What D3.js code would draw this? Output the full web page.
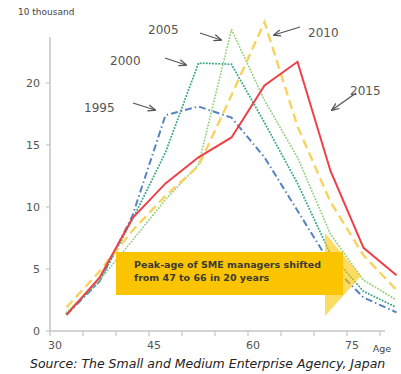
<!DOCTYPE html>
<html>
<head>
<meta charset="utf-8">
<script src="https://cdn.jsdelivr.net/npm/d3@7"></script>
<style>
  body { margin: 0; background: #fff; }
  svg { display: block; font-family: "DejaVu Sans", Verdana, sans-serif; }
</style>
</head>
<body>
<div class="chart"></div>
<script>
const width = 401;
const height = 374;

// age class midpoints
const ages = [32.5, 37.5, 42.5, 47.5, 52.5, 57.5, 62.5, 67.5, 72.5, 77.5, 82.5];

// number of SME managers (10 thousand)
const v1995 = [1.3, 4.0, 9.3, 17.4, 18.1, 17.2, 14.0, 9.7, 5.4, 2.7, 1.5];
const v2000 = [1.4, 4.0, 9.0, 14.4, 21.6, 21.5, 16.8, 11.9, 6.2, 3.2, 1.9];
const v2005 = [1.5, 4.1, 7.3, 10.6, 13.4, 24.3, 18.6, 14.0, 7.8, 4.1, 2.5];
const v2010 = [1.9, 4.8, 8.1, 10.9, 13.3, 19.0, 24.9, 16.5, 10.4, 6.1, 3.3];
const v2015 = [1.3, 4.3, 9.1, 11.9, 14.0, 15.6, 19.8, 21.7, 12.9, 6.7, 4.5];

const yTicks = [0, 5, 10, 15, 20];
const xTicks = [30, 35, 40, 45, 50, 55, 60, 65, 70, 75, 80];
const xLabels = [30, 45, 60, 75];

const series = [
    {name: "1995", values: v1995, color: "#5583c2", width: 2, dash: "7,3,1.5,3", cap: "butt"},
    {name: "2000", values: v2000, color: "#3fa98c", width: 2, dash: "0.1,3", cap: "round"},
    {name: "2005", values: v2005, color: "#96cf7c", width: 1.9, dash: "0.1,3", cap: "round"},
    {name: "2010", values: v2010, color: "#f7d35e", width: 2.4, dash: "9,5", cap: "butt"},
    {name: "2015", values: v2015, color: "#ee4048", width: 2, dash: null, cap: "butt"}
];

// year label + arrow from label to line
const callouts = [
    {name: "1995", tx: 84, ty: 112, x1: 133, y1: 103, x2: 155, y2: 110},
    {name: "2000", tx: 110, ty: 65, x1: 165, y1: 58, x2: 186, y2: 65},
    {name: "2005", tx: 148, ty: 34, x1: 200, y1: 33, x2: 221, y2: 40},
    {name: "2010", tx: 308, ty: 37, x1: 300, y1: 27, x2: 274, y2: 35},
    {name: "2015", tx: 350, ty: 95, x1: 356, y1: 93, x2: 332, y2: 110}
];

const svg = d3.select(".chart").append("svg")
    .attr("width", width)
    .attr("height", height);

const x = d3.scaleLinear().domain([30, 80]).range([50, 380]);
const y = d3.scaleLinear().domain([0, 23.7]).range([331, 37]);

const axisColor = "#c4c4c4";

// y axis
svg.append("line")
    .attr("x1", x(30)).attr("x2", x(30))
    .attr("y1", y(0)).attr("y2", y(23.7))
    .attr("stroke", axisColor).attr("stroke-width", 1.5);

yTicks.forEach(t => {
    svg.append("line")
        .attr("x1", x(30) - 4).attr("x2", x(30))
        .attr("y1", y(t)).attr("y2", y(t))
        .attr("stroke", axisColor).attr("stroke-width", 1.2);
    svg.append("text")
        .attr("x", x(30) - 10)
        .attr("y", y(t) + 4)
        .attr("text-anchor", "end")
        .attr("font-size", "11px")
        .attr("fill", "#555")
        .text(t);
});

// x axis
svg.append("line")
    .attr("x1", x(30)).attr("x2", x(80) + 5)
    .attr("y1", y(0)).attr("y2", y(0))
    .attr("stroke", axisColor).attr("stroke-width", 1.5);

xTicks.forEach(t => {
    svg.append("line")
        .attr("x1", x(t)).attr("x2", x(t))
        .attr("y1", y(0)).attr("y2", y(0) + 5)
        .attr("stroke", axisColor).attr("stroke-width", 1.2);
});

xLabels.forEach(t => {
    svg.append("text")
        .attr("x", x(t) + 5)
        .attr("y", 349)
        .attr("text-anchor", "middle")
        .attr("font-size", "11px")
        .attr("fill", "#555")
        .text(t);
});

svg.append("text")
    .attr("x", 382).attr("y", 352)
    .attr("text-anchor", "middle")
    .attr("font-size", "9.5px")
    .attr("fill", "#444")
    .text("Age");

svg.append("text")
    .attr("x", 18).attr("y", 15)
    .attr("font-size", "9px")
    .attr("fill", "#444")
    .text("10 thousand");

// lines
const line = d3.line()
    .x((d, i) => x(ages[i]))
    .y(d => y(d));

series.forEach(s => {
    svg.append("path")
        .datum(s.values)
        .attr("d", line)
        .attr("fill", "none")
        .attr("stroke", s.color)
        .attr("stroke-width", s.width)
        .attr("stroke-dasharray", s.dash)
        .attr("stroke-linecap", s.cap);
});

// annotation box and arrow head
svg.append("rect")
    .attr("x", 116).attr("y", 252)
    .attr("width", 227).attr("height", 43)
    .attr("fill", "#fbc400");

svg.append("path")
    .attr("d", "M325,233 L361,276 L325,316 Z")
    .attr("fill", "#fbc400")
    .attr("fill-opacity", 0.6);

svg.append("text")
    .attr("x", 134).attr("y", 268)
    .attr("font-size", "9.5px")
    .attr("font-weight", "bold")
    .attr("fill", "#3a3a3a")
    .text("Peak-age of SME managers shifted");

svg.append("text")
    .attr("x", 134).attr("y", 281)
    .attr("font-size", "9.5px")
    .attr("font-weight", "bold")
    .attr("fill", "#3a3a3a")
    .text("from 47 to 66 in 20 years");

// callouts
const defs = svg.append("defs");
defs.append("marker")
    .attr("id", "arrow")
    .attr("viewBox", "0 0 10 10")
    .attr("refX", 9).attr("refY", 5)
    .attr("markerWidth", 6).attr("markerHeight", 6)
    .attr("orient", "auto")
    .append("path")
    .attr("d", "M0,1 L10,5 L0,9")
    .attr("fill", "none")
    .attr("stroke", "#555")
    .attr("stroke-width", 1.6);

callouts.forEach(c => {
    svg.append("text")
        .attr("x", c.tx).attr("y", c.ty)
        .attr("font-size", "12px")
        .attr("fill", "#555")
        .text(c.name);
    svg.append("line")
        .attr("x1", c.x1).attr("y1", c.y1)
        .attr("x2", c.x2).attr("y2", c.y2)
        .attr("stroke", "#555")
        .attr("stroke-width", 1.3)
        .attr("marker-end", "url(#arrow)");
});

svg.append("text")
    .attr("x", 30).attr("y", 368)
    .attr("font-size", "12.5px")
    .attr("font-style", "italic")
    .attr("fill", "#222")
    .text("Source: The Small and Medium Enterprise Agency, Japan");
</script>
</body>
</html>
